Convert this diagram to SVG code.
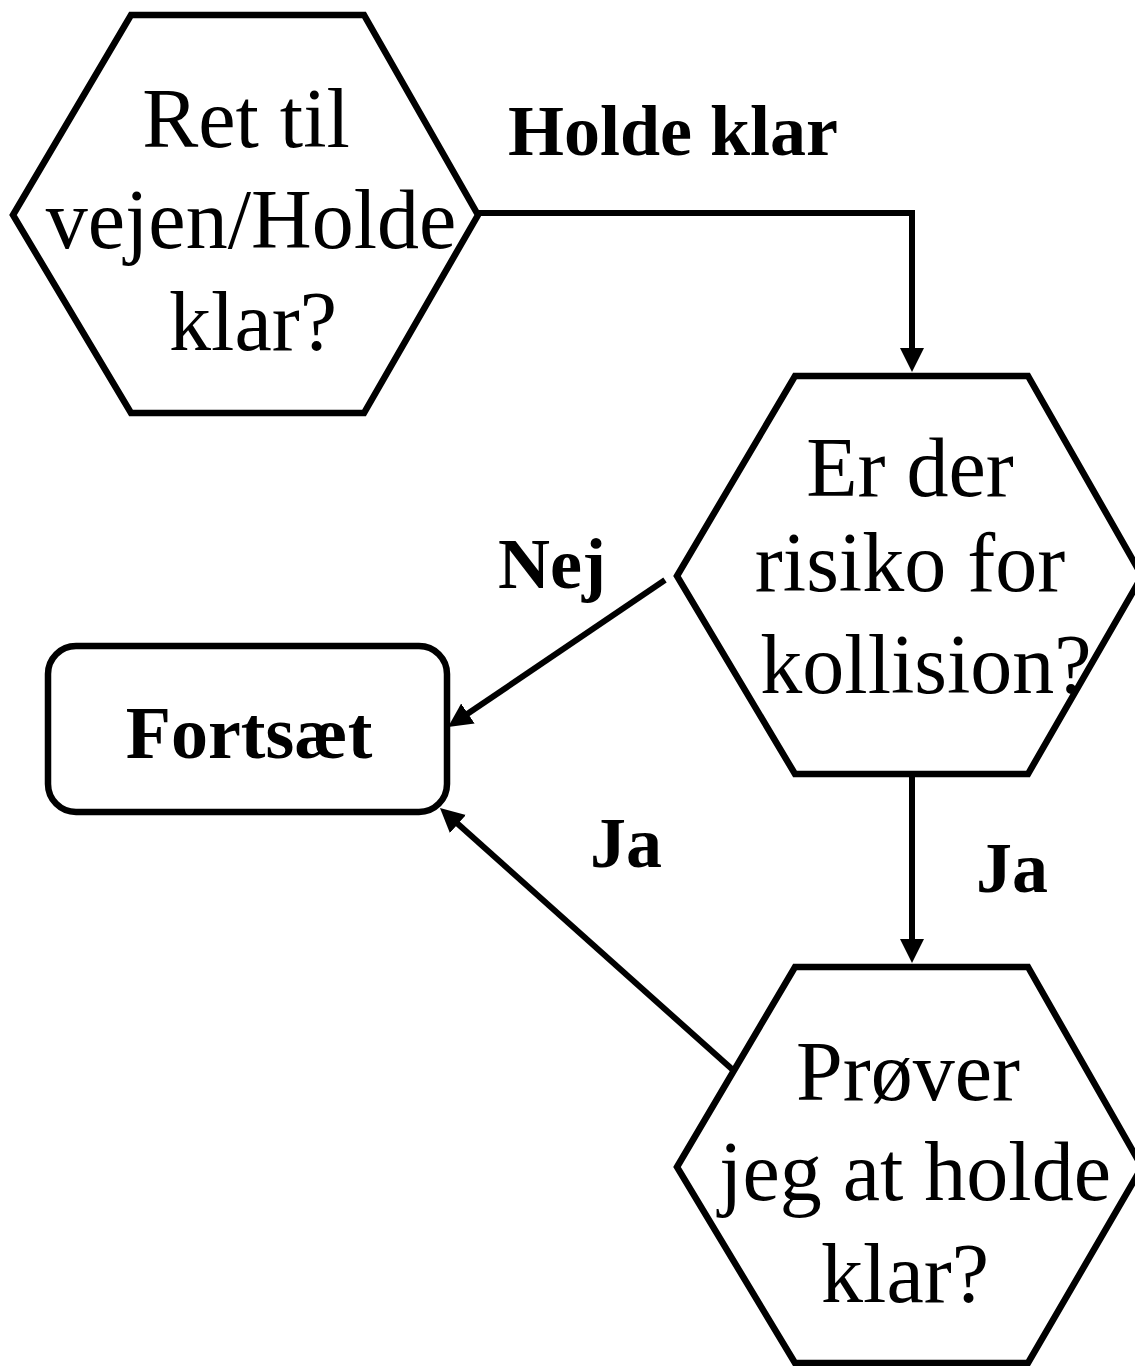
<svg xmlns="http://www.w3.org/2000/svg" width="1135" height="1366" viewBox="0 0 1135 1366">
<style>
.shape{fill:#fff;stroke:#000;stroke-width:6.5;stroke-linejoin:miter}
.t{font-family:"Liberation Serif","Times New Roman",serif;font-size:84px;fill:#000;text-anchor:middle}
.b{font-family:"Liberation Serif","Times New Roman",serif;font-size:72px;font-weight:bold;fill:#000;text-anchor:middle}
.edge{fill:none;stroke:#000;stroke-width:6}
</style>
<defs>
<marker id="arr" markerUnits="userSpaceOnUse" markerWidth="26" markerHeight="26" refX="4" refY="12" orient="auto">
<path d="M0,0 L24,12 L0,24 z" fill="#000"/>
</marker>
</defs>
<rect width="1135" height="1366" fill="#fff"/>
<g id="connectors">
<path class="edge" d="M479,213 L912,213 L912,352" marker-end="url(#arr)"/>
<path class="edge" d="M665,580 L464.6,715.8" marker-end="url(#arr)"/>
<path class="edge" d="M912,777 L912,943" marker-end="url(#arr)"/>
<path class="edge" d="M733,1070 L454.9,821.3" marker-end="url(#arr)"/>
<text class="b" x="673" y="155">Holde klar</text>
<text class="b" x="552" y="588">Nej</text>
<text class="b" x="626" y="867">Ja</text>
<text class="b" x="1012" y="892">Ja</text>
</g>
<g id="node-ret">
<polygon class="shape" points="13,215 131,15 364,15 478,215 364,413 131,413"/>
<text class="t" x="246" y="147">Ret til</text>
<text class="t" x="251" y="248">vejen/Holde</text>
<text class="t" x="253" y="350">klar?</text>
</g>
<g id="node-risiko">
<polygon class="shape" points="677,576 795,376 1028,376 1142,576 1028,774 795,774"/>
<text class="t" x="910" y="496">Er der</text>
<text class="t" x="910" y="591">risiko for</text>
<text class="t" x="926" y="693">kollision?</text>
</g>
<g id="node-proever">
<polygon class="shape" points="677,1167 795,967 1028,967 1142,1167 1028,1363 795,1363"/>
<text class="t" x="908" y="1100">Prøver</text>
<text class="t" x="915" y="1200">jeg at holde</text>
<text class="t" x="905" y="1302">klar?</text>
</g>
<g id="node-fortsaet">
<rect class="shape" x="48" y="646" width="399" height="166" rx="28" ry="28"/>
<text class="b" x="249" y="758" style="font-size:74px">Fortsæt</text>
</g>
</svg>
